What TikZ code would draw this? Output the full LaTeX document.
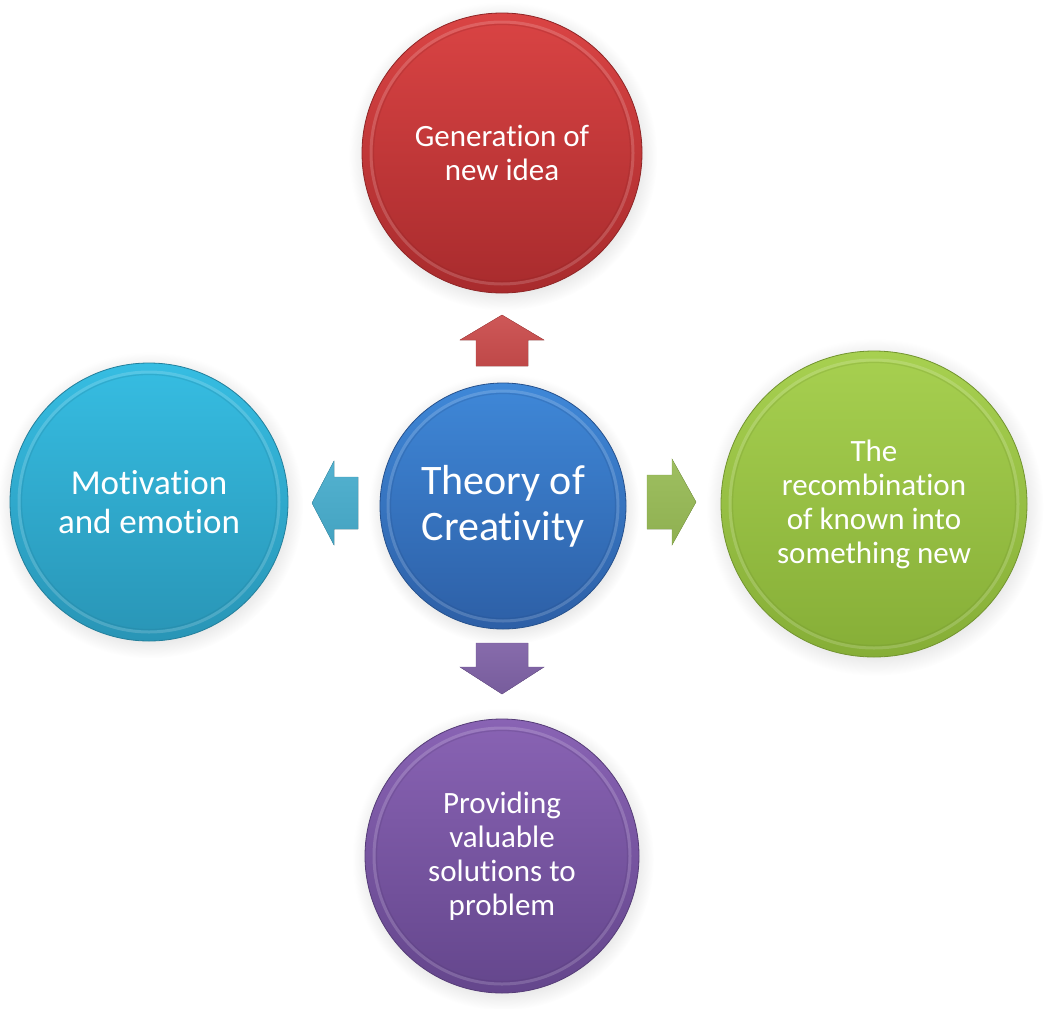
\documentclass[tikz,border=0pt]{standalone}
\usepackage{fontspec}
\setmainfont{Carlito}[Ligatures=NoCommon]
\usetikzlibrary{shadows}
\definecolor{redT}{HTML}{DA4444}
\definecolor{redB}{HTML}{A82B2D}
\definecolor{redA}{HTML}{CB4D4D}
\definecolor{cyanT}{HTML}{36BDE2}
\definecolor{cyanB}{HTML}{2995B6}
\definecolor{cyanA}{HTML}{48ADCD}
\definecolor{greenT}{HTML}{A7D050}
\definecolor{greenB}{HTML}{86AE37}
\definecolor{greenA}{HTML}{98BB56}
\definecolor{purpT}{HTML}{8963B4}
\definecolor{purpB}{HTML}{64468C}
\definecolor{purpA}{HTML}{7F62A6}
\definecolor{blueT}{HTML}{3F88D8}
\definecolor{blueB}{HTML}{2D5FA6}
\begin{document}
\begin{tikzpicture}[x=1pt,y=-1pt,
  bubble/.style n args={4}{circle, inner sep=0pt, align=center, text=white,
    font=\fontsize{31}{34}\selectfont, minimum size=#1,
    top color=#2, bottom color=#3, draw=#3!85!black, line width=0.8pt,
    circular drop shadow={shadow xshift=1pt, shadow yshift=-3pt, opacity=0.22},
    path picture={\draw[white, opacity=0.16, line width=3pt]
      (path picture bounding box.center) circle[radius=#4];
      \draw[#3!80!black, opacity=0.22, line width=1.2pt]
      (path picture bounding box.center) circle[radius=#4-2.5pt];}},
  blockarrow/.style={top color=#1!94!white, bottom color=#1!94!black, draw=#1!90!black, line width=0.4pt}
]
\useasboundingbox (0,0) rectangle (1044,1009);

% circles
\node[bubble={246pt}{blueT}{blueB}{115pt}, font=\fontsize{42}{46}\selectfont] (core) at (503,506) {Theory of\\Creativity};
\node[bubble={280pt}{redT}{redB}{131pt}] (gen) at (502,153) {Generation of\\new idea};
\node[bubble={278pt}{cyanT}{cyanB}{130pt}, font=\fontsize{35}{39}\selectfont] (mot) at (149,502) {Motivation\\and emotion};
\node[bubble={306pt}{greenT}{greenB}{144pt}] (rec) at (874,504) {The\\recombination\\of known into\\something new};
\node[bubble={274pt}{purpT}{purpB}{128pt}] (prov) at (502,856) {Providing\\valuable\\solutions to\\problem};

% block arrows
\coordinate (aup) at (502,340);
\coordinate (aleft) at (334,503);
\coordinate (aright) at (672,502);
\coordinate (adown) at (502,667);
\fill[blockarrow=redA, shift={(aup)}] (-26,26) -- (-26,0) -- (-42,0) -- (0,-25) -- (42,0) -- (26,0) -- (26,26) -- cycle;
\fill[blockarrow=cyanA, shift={(aleft)}] (24,-26) -- (0,-26) -- (0,-42) -- (-22,0) -- (0,42) -- (0,26) -- (24,26) -- cycle;
\fill[blockarrow=greenA, shift={(aright)}] (-25,-27) -- (0,-27) -- (0,-43) -- (24,0) -- (0,43) -- (0,27) -- (-25,27) -- cycle;
\fill[blockarrow=purpA, shift={(adown)}] (-26,-24) -- (-26,0) -- (-42,0) -- (0,27) -- (42,0) -- (26,0) -- (26,-24) -- cycle;
\end{tikzpicture}
\end{document}
